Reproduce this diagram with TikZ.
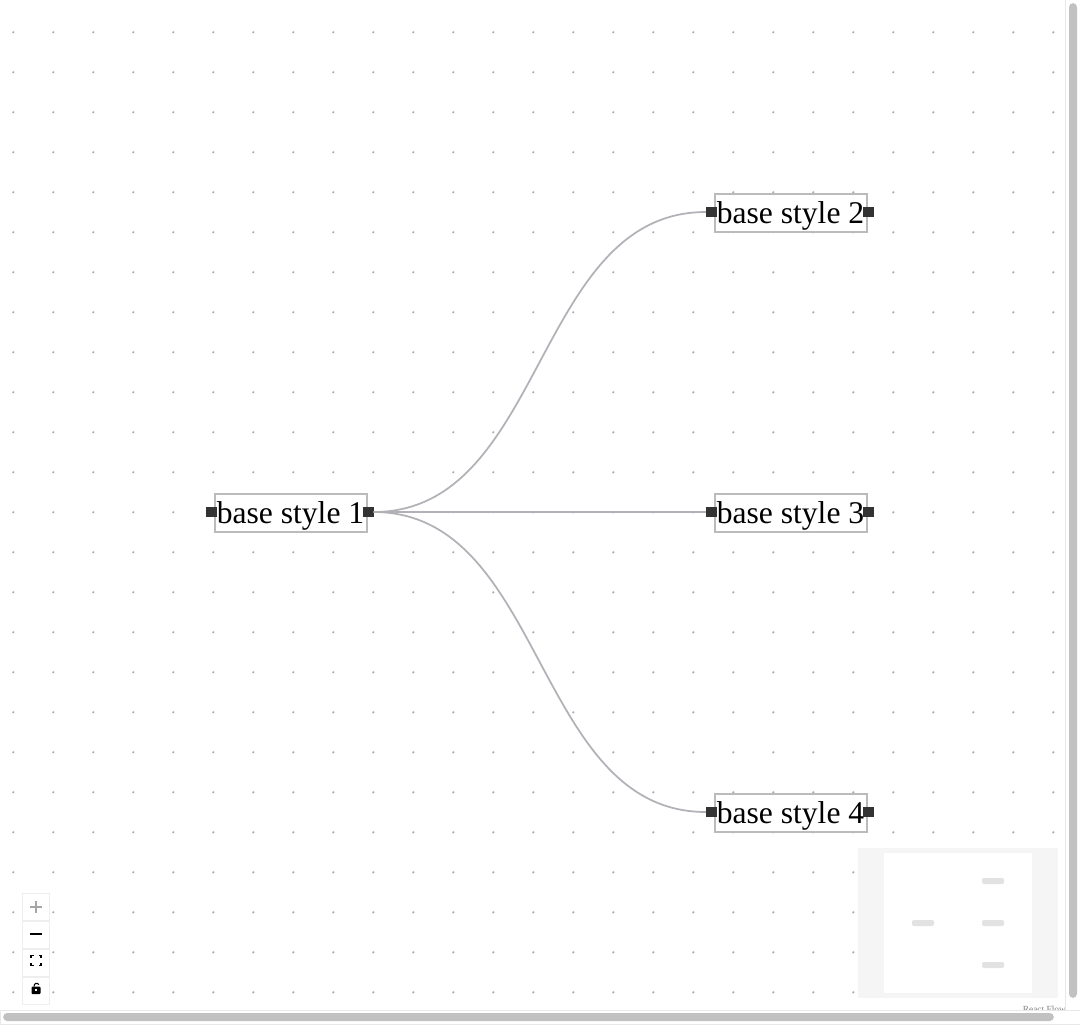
\documentclass[tikz,border=0pt]{standalone}
\usepackage{fontspec}
\setmainfont{Liberation Serif}
\usepackage{tikz}
\usetikzlibrary{positioning}

\definecolor{edgegray}{HTML}{B1B1B7}
\definecolor{boxgray}{HTML}{BBBBBB}
\definecolor{handlegray}{HTML}{333333}
\definecolor{dotgray}{HTML}{A8A8A8}
\definecolor{bargray}{HTML}{C1C1C1}
\definecolor{trackgray}{HTML}{E8E8E8}
\definecolor{mapgray}{HTML}{F5F5F5}
\definecolor{mapnode}{HTML}{E2E2E2}
\definecolor{ctrlgray}{HTML}{EEEEEE}

\tikzset{
  basebox/.style={draw=boxgray,fill=white,line width=1.5pt,outer sep=0pt,inner sep=0pt,
    minimum width=114pt,minimum height=28.5pt,text height=16.5pt,text depth=.5pt,
    font=\fontsize{23.7pt}{24pt}\selectfont},
  handle/.style={fill=handlegray,inner sep=0pt,outer sep=0pt,minimum size=8pt},
  flowedge/.style={draw=edgegray,line width=1.3pt},
  griddot/.style={fill=dotgray,inner sep=0pt,minimum size=1.7pt,circle},
  mapbox/.style={fill=mapnode,rounded corners=1.5pt,inner sep=0pt,minimum width=16.5pt,minimum height=4.5pt},
  ctrlbox/.style={draw=ctrlgray,fill=white,line width=.75pt,inner sep=0pt,minimum width=20.25pt,minimum height=20.25pt},
  icon/.style={line width=1.1pt}
}

\begin{document}
\begin{tikzpicture}[x=.75pt,y=-.75pt]

  \useasboundingbox[fill=white] (0,0) rectangle (1080,1024);

  % Background dots

  \foreach \i in {0,...,26} {
    \foreach \j in {0,...,24} {
      \node[griddot] (dot_\i_\j) at (13.3+40*\i,32.3+40*\j) {};
    }
  }

  % Nodes

  \node[basebox] (base_1) at (290.5,512.5) {base style 1};
  \node[basebox,right=261pt of base_1] (base_3) {base style 3};
  \node[basebox,above=196.5pt of base_3] (base_2) {base style 2};
  \node[basebox,below=196.5pt of base_3] (base_4) {base style 4};

  % Handles

  \node[handle,xshift=-2.5pt,yshift=.375pt] (base_1_l) at (base_1.west) {};
  \node[handle,xshift=1.25pt,yshift=.375pt] (base_1_r) at (base_1.east) {};
  \node[handle,xshift=-2.5pt,yshift=.375pt] (base_2_l) at (base_2.west) {};
  \node[handle,xshift=1.25pt,yshift=.375pt] (base_2_r) at (base_2.east) {};
  \node[handle,xshift=-2.5pt,yshift=.375pt] (base_3_l) at (base_3.west) {};
  \node[handle,xshift=1.25pt,yshift=.375pt] (base_3_r) at (base_3.east) {};
  \node[handle,xshift=-2.5pt,yshift=.375pt] (base_4_l) at (base_4.west) {};
  \node[handle,xshift=1.25pt,yshift=.375pt] (base_4_r) at (base_4.east) {};

  % Edges

  \draw[flowedge] (base_1_r.east) .. controls +(172,0) and +(-172,0) .. (base_2_l.west);
  \draw[flowedge] (base_1_r.east) -- (base_3_l.west);
  \draw[flowedge] (base_1_r.east) .. controls +(172,0) and +(-172,0) .. (base_4_l.west);

  % Minimap

  \node[fill=mapgray,inner sep=0pt,minimum width=150pt,minimum height=112.5pt] (map) at (958,923) {};
  \node[fill=white,inner sep=0pt,minimum width=111pt,minimum height=105pt] (map_view) at (958,923) {};
  \node[mapbox] (map_2) at (993,881) {};
  \node[mapbox] (map_1) at (923,923) {};
  \node[mapbox] (map_3) at (993,923) {};
  \node[mapbox] (map_4) at (993,965) {};

  % Controls

  \node[ctrlbox] (zoom_in) at (36,907) {};
  \node[ctrlbox,below=0pt of zoom_in] (zoom_out) {};
  \node[ctrlbox,below=0pt of zoom_out] (fit_view) {};
  \node[ctrlbox,below=0pt of fit_view] (lock) {};

  \draw[icon,draw=gray!70] (30,907) -- (42,907) (36,901) -- (36,913);
  \draw[icon,draw=black] (30,934) -- (42,934);
  \draw[icon,draw=black] (31,958) -- (31,955.5) -- (33.5,955.5) (38.5,955.5) -- (41,955.5) -- (41,958)
    (41,963) -- (41,965.5) -- (38.5,965.5) (33.5,965.5) -- (31,965.5) -- (31,963);
  \fill[black,rounded corners=.75pt] (31.5,986.5) rectangle (40.5,994);
  \draw[line width=.8pt,draw=black] (34,986.5) .. controls (34,983) and (37,982.5) .. (39,984.5);
  \fill[white] (35,989) rectangle (37,991);

  % Attribution, cut off by the scrollbar

  \node[anchor=base east,inner sep=0pt,text=gray,font=\fontsize{7pt}{7pt}\selectfont] (attrib) at (1066,1012) {React Flow};

  % Scrollbars

  \node[fill=white,draw=trackgray,line width=.75pt,inner sep=0pt,minimum width=810pt,minimum height=10.5pt] (track_h) at (540,1017) {};
  \node[fill=white,draw=trackgray,line width=.75pt,inner sep=0pt,minimum width=11.25pt,minimum height=757.5pt] (track_v) at (1073,505) {};
  \node[fill=bargray,rounded corners=3pt,inner sep=0pt,minimum width=6pt,minimum height=746pt] (bar_v) at (1073,500.5) {};
  \node[fill=bargray,rounded corners=3pt,inner sep=0pt,minimum width=788pt,minimum height=6pt] (bar_h) at (528.5,1017) {};

\end{tikzpicture}
\end{document}
